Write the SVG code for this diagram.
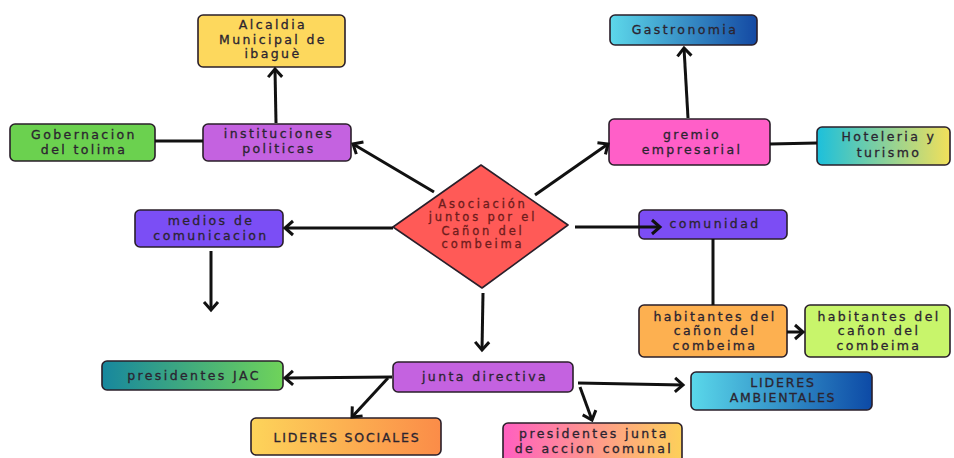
<svg xmlns="http://www.w3.org/2000/svg" width="954" height="458" viewBox="0 0 954 458">
<style>
.n{stroke:#2a1f2a;stroke-width:1.6}
.t{font-family:"DejaVu Sans","Liberation Sans",Arial,sans-serif;font-size:12.5px;letter-spacing:2.4px;fill:#2b2430;stroke:#2b2430;stroke-width:0.3px;text-anchor:middle}
.u{letter-spacing:1.8px}
.d{fill:#6e1c1c;stroke:#6e1c1c;font-size:11.5px;letter-spacing:2.8px}
.c line{stroke:#111;stroke-width:3}
.a{marker-end:url(#ah)}
</style>
<defs>
<marker id="ah" markerUnits="userSpaceOnUse" markerWidth="20" markerHeight="20" viewBox="-12 -10 14 20" refX="0" refY="0" orient="auto">
<path d="M-8,-7 L0,0 L-8,7" fill="none" stroke="#111" stroke-width="3" stroke-linejoin="miter"/>
</marker>
<linearGradient id="gGas" x1="0" x2="1" y1="0" y2="0"><stop offset="0" stop-color="#5dd8ea"/><stop offset="1" stop-color="#1449a3"/></linearGradient>
<linearGradient id="gHot" x1="0" x2="1" y1="0" y2="0"><stop offset="0" stop-color="#1cc0dc"/><stop offset="1" stop-color="#f2e05a"/></linearGradient>
<linearGradient id="gJac" x1="0" x2="1" y1="0" y2="0"><stop offset="0" stop-color="#17879e"/><stop offset="1" stop-color="#6fd35a"/></linearGradient>
<linearGradient id="gSoc" x1="0" x2="1" y1="0" y2="0"><stop offset="0" stop-color="#fdd45a"/><stop offset="1" stop-color="#fb8c48"/></linearGradient>
<linearGradient id="gAmb" x1="0" x2="1" y1="0" y2="0"><stop offset="0" stop-color="#5ad8ea"/><stop offset="1" stop-color="#0d4aa6"/></linearGradient>
<linearGradient id="gPjc" x1="0" x2="1" y1="0" y2="0"><stop offset="0" stop-color="#ff5fc0"/><stop offset="1" stop-color="#fdd05a"/></linearGradient>
</defs>
<rect width="954" height="458" fill="#ffffff"/>

<g id="alcaldia"><rect class="n" x="198" y="15" width="147" height="52" rx="5" fill="#fdd85d"/>
<text class="t" x="273" y="29">Alcaldia</text><text class="t" x="273" y="43.5">Municipal de</text><text class="t" x="273" y="58">ibaguè</text></g>

<g id="gobernacion"><rect class="n" x="10" y="124" width="145" height="37" rx="5" fill="#6bd14f"/>
<text class="t" x="84" y="139">Gobernacion</text><text class="t" x="84" y="153.5">del tolima</text></g>

<g id="instituciones"><rect class="n" x="203" y="124" width="148" height="37" rx="5" fill="#c462e0"/>
<text class="t" x="279" y="138">instituciones</text><text class="t" x="279" y="152.5">politicas</text></g>

<g id="gastronomia"><rect class="n" x="610" y="15" width="147" height="30" rx="5" fill="url(#gGas)"/>
<text class="t" x="685" y="33.5">Gastronomia</text></g>

<g id="gremio"><rect class="n" x="609" y="119" width="161" height="46" rx="5" fill="#ff5fc8"/>
<text class="t" x="692" y="139">gremio</text><text class="t" x="692" y="153.5">empresarial</text></g>

<g id="hoteleria"><rect class="n" x="817" y="127" width="133" height="38" rx="5" fill="url(#gHot)"/>
<text class="t" x="889" y="141">Hoteleria y</text><text class="t" x="889" y="156.5">turismo</text></g>

<g id="asociacion"><path class="n" d="M393,227 L481,165 L568,225 L482,288 Z" stroke-linejoin="round" fill="#ff5a57"/>
<text class="t d" x="483" y="207.5">Asociación</text><text class="t d" x="483" y="221">juntos por el</text><text class="t d" x="483" y="234.5">Cañon del</text><text class="t d" x="483" y="248">combeima</text></g>

<g id="medios"><rect class="n" x="135" y="210" width="148" height="37" rx="5" fill="#7b4ef5"/>
<text class="t" x="211" y="225">medios de</text><text class="t" x="211" y="239.5">comunicacion</text></g>

<g id="comunidad"><rect class="n" x="639" y="210" width="148" height="29" rx="5" fill="#7c4df4"/>
<text class="t" x="715" y="227.5">comunidad</text></g>

<g id="habitantes1"><rect class="n" x="639" y="305" width="148" height="52" rx="5" fill="#fdb050"/>
<text class="t" x="715" y="320.5">habitantes del</text><text class="t" x="715" y="335">cañon del</text><text class="t" x="715" y="349.5">combeima</text></g>

<g id="habitantes2"><rect class="n" x="805" y="305" width="145" height="52" rx="5" fill="#c8f56b"/>
<text class="t" x="879" y="320.5">habitantes del</text><text class="t" x="879" y="335">cañon del</text><text class="t" x="879" y="349.5">combeima</text></g>

<g id="presidentesJAC"><rect class="n" x="102" y="361" width="181" height="29" rx="5" fill="url(#gJac)"/>
<text class="t" x="194" y="379.5">presidentes JAC</text></g>

<g id="junta"><rect class="n" x="393" y="362" width="180" height="30" rx="5" fill="#c462e0"/>
<text class="t" x="485" y="380.5">junta directiva</text></g>

<g id="lideresSociales"><rect class="n" x="251" y="418" width="190" height="37" rx="5" fill="url(#gSoc)"/>
<text class="t u" x="347" y="442">LIDERES SOCIALES</text></g>

<g id="lideresAmbientales"><rect class="n" x="691" y="372" width="181" height="38" rx="5" fill="url(#gAmb)"/>
<text class="t u" x="783" y="387">LIDERES</text><text class="t u" x="783" y="401.5">AMBIENTALES</text></g>

<g id="presidentesJunta"><rect class="n" x="503" y="423" width="179" height="40" rx="5" fill="url(#gPjc)"/>
<text class="t" x="594" y="438">presidentes junta</text><text class="t" x="594" y="452.5">de accion comunal</text></g>

<g id="connectors" class="c">
<line class="a" x1="276" y1="123" x2="275" y2="69"/>
<line x1="155" y1="141" x2="203" y2="141"/>
<line class="a" x1="434" y1="192" x2="353" y2="144"/>
<line class="a" x1="688" y1="118" x2="684" y2="48"/>
<line class="a" x1="535" y1="195" x2="608" y2="144"/>
<line x1="770" y1="144" x2="817" y2="143"/>
<line class="a" x1="393" y1="228" x2="285" y2="228"/>
<line class="a" x1="211" y1="251" x2="211" y2="310"/>
<line class="a" x1="483" y1="293" x2="482" y2="350"/>
<line class="a" x1="575" y1="227" x2="660" y2="227"/>
<line x1="713" y1="239" x2="713" y2="305"/>
<line class="a" x1="787" y1="332" x2="803" y2="332"/>
<line class="a" x1="392" y1="377" x2="285" y2="378"/>
<line class="a" x1="388" y1="378" x2="352" y2="417"/>
<line class="a" x1="578" y1="383" x2="683" y2="385"/>
<line class="a" x1="580" y1="387" x2="592" y2="420"/>
</g>
</svg>
